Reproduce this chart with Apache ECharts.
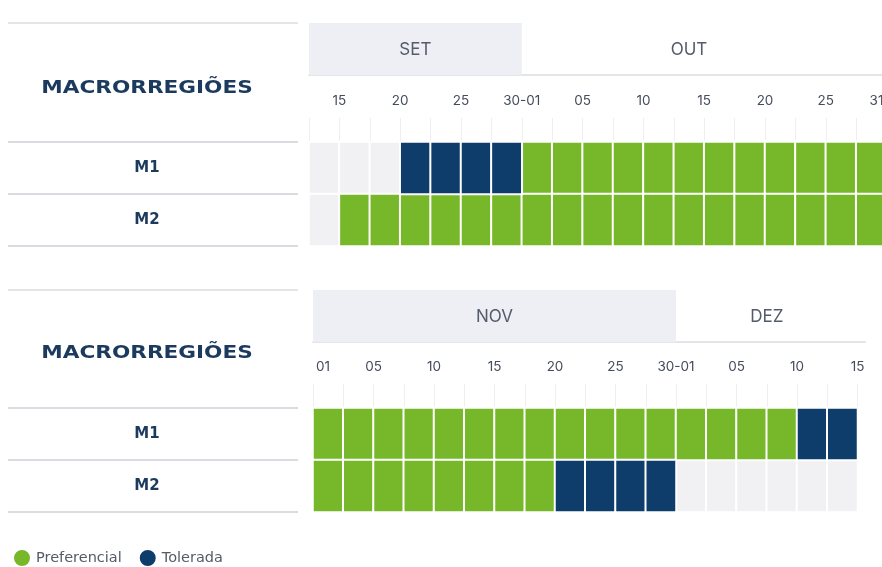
<!DOCTYPE html>
<html>
<head>
<meta charset="utf-8">
<script src="https://cdn.jsdelivr.net/npm/echarts@6/dist/echarts.min.js"></script>
<style>
  html, body { margin: 0; padding: 0; background: #fff; }
  #chart { width: 882px; height: 567px; }
</style>
</head>
<body>
<div id="chart"></div>
<script>
// regiões (linhas)
var regioes = ['M1', 'M2'];

// painel de cima: setembro / outubro
var mesesTop = ['SET', 'OUT'];
var mesesTopIni = [0, 7];
var mesesTopFim = [7, 18];
var ticksTop = ['', '15', '', '20', '', '25', '', '30-01', '', '05', '', '10', '', '15', '', '20', '', '25', '', '31-01'];
// 0 = fora da janela, 1 = preferencial, 2 = tolerada
var topM1 = [0, 0, 0, 2, 2, 2, 2, 1, 1, 1, 1, 1, 1, 1, 1, 1, 1, 1, 1];
var topM2 = [0, 1, 1, 1, 1, 1, 1, 1, 1, 1, 1, 1, 1, 1, 1, 1, 1, 1, 1];

// painel de baixo: novembro / dezembro
var mesesBot = ['NOV', 'DEZ'];
var mesesBotIni = [0, 12];
var mesesBotFim = [12, 18];
var ticksBot = ['01', '', '05', '', '10', '', '15', '', '20', '', '25', '', '30-01', '', '05', '', '10', '', '15'];
var botM1 = [1, 1, 1, 1, 1, 1, 1, 1, 1, 1, 1, 1, 1, 1, 1, 1, 2, 2];
var botM2 = [1, 1, 1, 1, 1, 1, 1, 1, 2, 2, 2, 2, 0, 0, 0, 0, 0, 0];

var VERDE = '#77b82a';
var AZUL = '#0e3c6b';
var CINZA = '#f1f1f3';
var FONTE = 'Inter, "DejaVu Sans", sans-serif';
var FONTE_B = '"DejaVu Sans", sans-serif';
var W = 882;

var paineis = [
    { left: 309, col: 30.4, extra: 0, headTop: 22, cellTop: 142, corta: false,
      meses: mesesTop, ini: mesesTopIni, fim: mesesTopFim, ticks: ticksTop, linhas: [topM1, topM2] },
    { left: 313, col: 30.25, extra: 0.25, headTop: 289, cellTop: 408, corta: true,
      meses: mesesBot, ini: mesesBotIni, fim: mesesBotFim, ticks: ticksBot, linhas: [botM1, botM2] }
];

var grids = [], xAxes = [], yAxes = [], series = [];

paineis.forEach(function (p) {
    var n = p.linhas[0].length;
    var g = grids.length;

    // cabeçalho dos meses
    grids.push({ left: p.left, top: p.headTop, right: W - p.left - p.col * (n + p.extra), height: 53, outerBoundsMode: 'none' });
    // células
    grids.push({ left: p.left, top: p.cellTop, right: W - p.left - p.col * n, height: 104, outerBoundsMode: 'none' });

    var xHead = xAxes.length;
    xAxes.push({
        gridIndex: g, type: 'value', min: 0, max: n + p.extra, position: 'top',
        axisLine: { show: true, lineStyle: { color: '#e4e5e9', width: 2 } },
        axisTick: { show: false }, axisLabel: { show: false }, splitLine: { show: false }
    });
    var yHead = yAxes.length;
    yAxes.push({ gridIndex: g, type: 'value', min: 0, max: 1, show: false });

    var xCel = xAxes.length;
    xAxes.push({
        gridIndex: g + 1, type: 'category', show: false,
        data: p.linhas[0].map(function (v, i) { return i; })
    });
    xAxes.push({
        gridIndex: g + 1, type: 'category', boundaryGap: false, position: 'top',
        data: p.ticks.map(function (t, i) {
            // o primeiro rótulo de baixo aparece cortado na borda
            return (p.corta && i === 0) ? { value: t, textStyle: { align: 'left', padding: [0, 0, 0, 3] } } : t;
        }),
        axisLine: { show: false },
        axisTick: { show: true, interval: 0, length: 24, lineStyle: { color: '#efeff1' } },
        axisLabel: { interval: 0, margin: 34, fontSize: 13.5, color: '#454c5c', fontFamily: FONTE, hideOverlap: false }
    });
    var yCel = yAxes.length;
    yAxes.push({
        gridIndex: g + 1, type: 'category', data: regioes, inverse: true,
        offset: p.left - 298,
        axisLine: { show: false },
        axisTick: { show: true, length: 290, lineStyle: { color: '#d9dce1', width: 2 } },
        axisLabel: { margin: 151, align: 'center', fontSize: 15, fontWeight: 'bold', color: '#1b3a5e', fontFamily: FONTE_B }
    });

    series.push({
        type: 'custom', xAxisIndex: xHead, yAxisIndex: yHead,
        data: p.meses.map(function (m, i) { return [p.ini[i], p.fim[i]]; }),
        encode: { x: [0, 1] },
        silent: true,
        renderItem: function (params, api) {
            var a = api.coord([api.value(0), 1]);
            var b = api.coord([api.value(1), 0]);
            var i = params.dataIndex;
            return {
                type: 'group',
                children: [{
                    type: 'rect',
                    shape: { x: a[0], y: a[1] + 1, width: b[0] - a[0], height: b[1] - a[1] - 1 },
                    style: { fill: i % 2 === 0 ? '#eeeff4' : 'rgba(0,0,0,0)' }
                }, {
                    type: 'text',
                    x: (a[0] + b[0]) / 2, y: (a[1] + b[1]) / 2 + 1,
                    style: { text: p.meses[i], fill: '#545b6b', font: '17px ' + FONTE, align: 'center', verticalAlign: 'middle' }
                }]
            };
        }
    });

    [['Fora', 0, CINZA], ['Preferencial', 1, VERDE], ['Tolerada', 2, AZUL]].forEach(function (s) {
        var dados = [];
        p.linhas.forEach(function (linha, r) {
            linha.forEach(function (v, c) {
                if (v === s[1]) dados.push([c, r, v]);
            });
        });
        series.push({
            name: s[0], type: 'heatmap', xAxisIndex: xCel, yAxisIndex: yCel,
            data: dados, silent: true,
            itemStyle: { color: s[2], borderColor: '#ffffff', borderWidth: 2 },
            emphasis: { disabled: true }
        });
    });
});

function titulo(y) {
    return {
        type: 'text', x: 147, y: y, scaleX: 1.2,
        style: { text: 'MACRORREGIÕES', fill: '#1b3a5e', font: 'bold 18px ' + FONTE_B, align: 'center', verticalAlign: 'middle' }
    };
}

var chart = echarts.init(document.getElementById('chart'));
chart.setOption({
    animation: false,
    grid: grids,
    xAxis: xAxes,
    yAxis: yAxes,
    series: series,
    legend: {
        data: ['Preferencial', 'Tolerada'], left: 7, top: 543,
        icon: 'circle', itemWidth: 18, itemHeight: 18, itemGap: 16,
        textStyle: { fontSize: 14.5, color: '#555b66', fontFamily: FONTE_B }
    },
    graphic: [
        titulo(88),
        titulo(353),
        { type: 'line', shape: { x1: 8, y1: 23, x2: 298, y2: 23 }, style: { stroke: '#e4e5e9', lineWidth: 2 } },
        { type: 'line', shape: { x1: 8, y1: 290, x2: 298, y2: 290 }, style: { stroke: '#e4e5e9', lineWidth: 2 } }
    ]
});
</script>
</body>
</html>
